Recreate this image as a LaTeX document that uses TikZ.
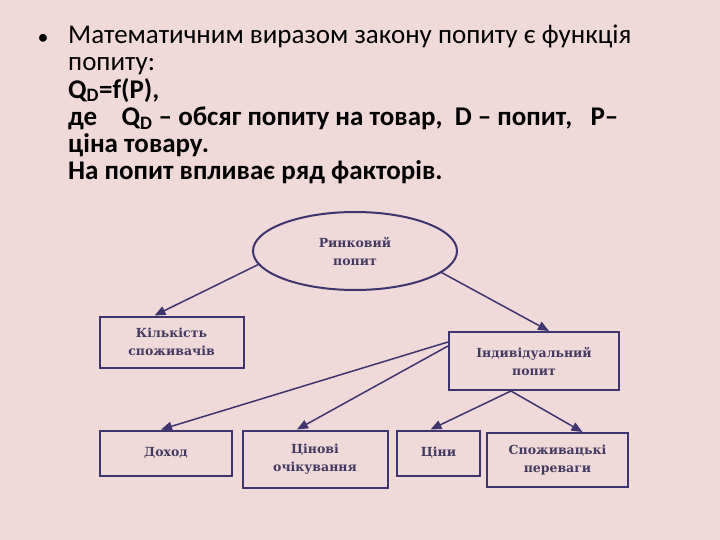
\documentclass[tikz,border=0pt]{standalone}
\usepackage{fontspec}
\setmainfont{Carlito}
\newfontfamily\boxfont{DejaVu Serif}
\usetikzlibrary{shapes.geometric,arrows.meta}
\definecolor{bgpink}{RGB}{240,217,217}
\definecolor{linie}{RGB}{62,52,110}
\definecolor{schrift}{RGB}{66,58,96}
\begin{document}
\begin{tikzpicture}[x=1pt, y=-1pt, box/.style={
		draw=linie,
		line width=2pt,
		align=center,
		inner sep=0pt,
		text=schrift,
		font=\boxfont\bfseries\fontsize{12.5}{18}\selectfont
	},
	pfeil/.style={
		draw=linie,
		line width=1.5pt,
		-{Triangle[length=11pt,width=9pt]}
	}
	]
	
	\fill[bgpink] (0,0) rectangle (720,540);
	\useasboundingbox (0,0) rectangle (720,540);
	
	%Text oben
	\node[anchor=base, font=\fontsize{22}{27}\selectfont] (punkt) at (43,45) {\textbullet};
	\node[anchor=north west, align=left, inner sep=0pt,
		font=\fontsize{27}{27.2}\selectfont] (text) at (68,25)
	{Математичним виразом закону попиту є функція\\
	попиту:\\
	\textbf{Q\textsubscript{D}=f(P),}\\
	\textbf{де \ \ \ Q\textsubscript{D} – обсяг попиту на товар, \ D – попит, \ \ P–}\\
	\textbf{ціна товару.}\\
	\textbf{На попит впливає ряд факторів.}};
	
	%Schema
	\node[box, ellipse, minimum width=204pt, minimum height=78pt] (markt) at (355,251) {Ринковий\\попит};
	\node[box, minimum width=144pt, minimum height=51pt] (anzahl) at (171.5,342) {Кількість\\споживачів};
	\node[box, minimum width=170pt, minimum height=58pt] (indiv) at (534,361) {Індивідуальний\\попит};
	
	\node[box, minimum width=132pt, minimum height=45pt] (dokhod) at (166,453) {Доход};
	\node[box, minimum width=145pt, minimum height=57pt] (erwart) at (315,459) {Цінові\\очікування};
	\node[box, minimum width=83pt, minimum height=45pt] (preise) at (438.5,453) {Ціни};
	\node[box, minimum width=141pt, minimum height=54pt] (vorlieb) at (557.5,460) {Споживацькі\\переваги};
	
	\draw[pfeil] (markt.188) -- ([xshift=-17pt]anzahl.north);
	\draw[pfeil] (markt.-14) -- ([xshift=15pt]indiv.north);
	
	\draw[pfeil] ([yshift=-11pt]indiv.north west) -- ([xshift=-5pt]dokhod.north);
	\draw[pfeil] ([yshift=-15pt]indiv.north west) -- ([xshift=-18pt]erwart.north);
	\draw[pfeil] ([xshift=-23pt]indiv.south) -- ([xshift=-8pt]preise.north);
	\draw[pfeil] ([xshift=-23pt]indiv.south) -- ([xshift=25pt]vorlieb.north);
	
\end{tikzpicture}
\end{document}
